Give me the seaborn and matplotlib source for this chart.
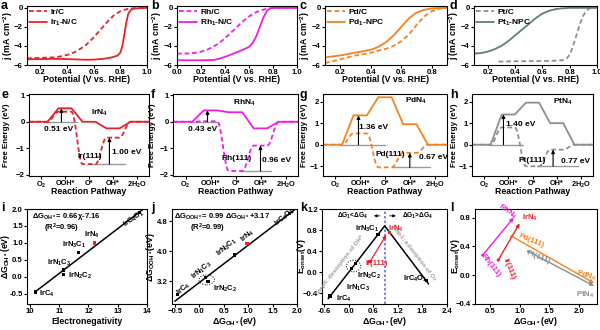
import numpy as np
import pandas as pd
import matplotlib
matplotlib.use("Agg")
import matplotlib.pyplot as plt
import seaborn as sns
from matplotlib.patches import Ellipse

# ---------------- data ----------------
# a  Ir
a_irc_x = [0.1, 0.2, 0.3, 0.35, 0.4, 0.45, 0.5, 0.55, 0.6, 0.65, 0.7, 0.75, 0.8, 0.85, 0.9, 0.95, 1.0]
a_irc_y = [-5.3, -5.25, -5.2, -5.1, -4.95, -4.7, -4.3, -3.8, -3.1, -2.3, -1.5, -0.8, -0.35, -0.12, -0.03, 0.0, 0.0]
a_irn_x = [0.1, 0.2, 0.3, 0.4, 0.5, 0.55, 0.6, 0.65, 0.7, 0.75, 0.78, 0.8, 0.815, 0.83, 0.845, 0.86, 0.88, 0.9, 0.95, 1.0]
a_irn_y = [-5.4, -5.38, -5.35, -5.38, -5.43, -5.45, -5.43, -5.38, -5.3, -5.15, -5.0, -4.7, -4.0, -2.8, -1.5, -0.6, -0.2, -0.08, -0.02, 0.0]
# b  Rh
b_rhc_x = [0.0, 0.05, 0.1, 0.15, 0.2, 0.25, 0.3, 0.35, 0.4, 0.45, 0.5, 0.55, 0.6, 0.65, 0.7, 0.75, 0.8, 0.9, 1.0]
b_rhc_y = [-4.8, -4.8, -4.78, -4.72, -4.6, -4.4, -4.1, -3.7, -3.2, -2.6, -2.0, -1.4, -0.9, -0.5, -0.25, -0.08, 0.0, 0.0, 0.0]
b_rhn_x = [0.0, 0.1, 0.2, 0.3, 0.35, 0.4, 0.45, 0.5, 0.55, 0.6, 0.63, 0.66, 0.69, 0.72, 0.75, 0.78, 0.8, 0.9, 1.0]
b_rhn_y = [-5.5, -5.5, -5.5, -5.48, -5.35, -5.15, -4.9, -4.65, -4.4, -4.1, -3.7, -3.0, -2.0, -1.0, -0.3, -0.03, 0.0, 0.0, 0.0]
# c  Pd
c_pdc_x = [0.1, 0.15, 0.2, 0.25, 0.3, 0.35, 0.4, 0.45, 0.5, 0.55, 0.6, 0.65, 0.7, 0.75, 0.8, 0.85, 0.9]
c_pdc_y = [-5.8, -5.6, -5.4, -5.2, -5.0, -4.85, -4.7, -4.5, -4.3, -4.0, -3.5, -2.8, -1.8, -0.9, -0.35, -0.1, 0.0]
c_pdn_x = [0.1, 0.15, 0.2, 0.25, 0.3, 0.35, 0.4, 0.45, 0.5, 0.55, 0.6, 0.65, 0.7, 0.75, 0.8, 0.85, 0.9]
c_pdn_y = [-5.2, -5.1, -5.0, -4.85, -4.7, -4.55, -4.4, -4.1, -3.6, -2.9, -2.0, -1.1, -0.5, -0.2, -0.05, -0.01, 0.0]
# d  Pt
d_ptc_x = [0.28, 0.4, 0.5, 0.6, 0.7, 0.75, 0.78, 0.8, 0.82, 0.84, 0.86, 0.88, 0.9, 0.92, 0.94, 0.96]
d_ptc_y = [-5.65, -5.6, -5.6, -5.58, -5.55, -5.5, -5.3, -4.9, -4.2, -3.3, -2.4, -1.5, -0.8, -0.35, -0.1, 0.0]
d_ptn_x = [0.1, 0.15, 0.2, 0.25, 0.3, 0.35, 0.4, 0.45, 0.5, 0.55, 0.6, 0.65, 0.7, 0.75, 0.8, 0.9, 1.0]
d_ptn_y = [-4.8, -4.75, -4.6, -4.35, -4.0, -3.5, -2.9, -2.3, -1.7, -1.1, -0.6, -0.3, -0.12, -0.04, 0.0, 0.0, 0.0]

# e-h free-energy levels
states = ["O$_2$", "OOH*", "O*", "OH*", "2H$_2$O"]
e_IrN4 = [0.0, 0.51, 0.0, -0.25, 0.0]
e_Ir111 = [0.0, 0.38, -1.60, -0.60, 0.0]
f_RhN4 = [0.0, 0.43, 0.36, -0.25, 0.0]
f_Rh111 = [0.0, 0.02, -1.86, -0.90, 0.0]
g_PdN4 = [0.0, 1.36, 2.20, 0.95, 0.0]
g_Pd111 = [0.0, 0.52, -1.05, -0.38, 0.0]
h_PtN4 = [0.0, 1.40, 1.95, 1.00, 0.0]
h_Pt111 = [0.0, 0.80, -1.00, -0.23, 0.0]

# i-k
sites = ["IrC$_4$", "IrN$_1$C$_3$", "IrN$_2$C$_2$", "IrN$_3$C$_1$", "IrN$_4$", "IrC$_4$O$_1$"]
i_chi = [10.2, 11.15, 11.15, 11.65, 12.2, 13.75]
i_goh = [-0.45, 0.2, 0.07, 0.72, 1.0, 1.9]
i_fit = (0.66, -7.16)
j_goh = [-0.45, 0.12, 0.18, 0.72, 0.98, 1.85]
j_gooh = [2.85, 3.3, 3.2, 3.9, 4.2, 5.0]
j_fit = (0.99, 3.17)
k_goh = [-0.45, 0.07, 0.17, 0.72, 1.0, 1.9]
k_eon = [-0.45, 0.07, 0.17, 0.72, 0.75, -0.15]
k_volcano_x = [-0.5, 0.88, 1.95]
k_volcano_y = [-0.5, 0.88, -0.22]
k_ir111 = (0.52, 0.2)
k_top = 0.88
# l
l_names = ["Rh", "Ir", "Pd", "Pt"]
l_start_x = [0.38, 0.64, 0.87, 1.15]
l_start_y = [0.28, 0.21, 0.54, 0.33]
l_end_x = [0.9, 1.0, 2.25, 2.25]
l_end_y = [0.8, 0.72, -0.11, -0.15]

C_IR = "#e8212b"
C_RH = "#f01ee0"
C_PD = "#f5821f"
C_PT = "#5f7e7c"
C_PTD = "#8a8f8f"

# ---------------- style ----------------
sns.set_theme(style="ticks")
plt.rcParams.update({
    "font.family": ["Liberation Sans", "DejaVu Sans"],
    "font.weight": "bold",
    "axes.labelweight": "bold",
    "font.size": 6,
    "axes.linewidth": 0.8,
    "xtick.major.width": 0.8, "ytick.major.width": 0.8,
    "xtick.major.size": 2.0, "ytick.major.size": 2.0,
    "xtick.labelsize": 5.6, "ytick.labelsize": 5.6,
    "axes.labelsize": 6.3,
    "mathtext.fontset": "custom",
    "mathtext.rm": "Liberation Sans:bold",
    "mathtext.bf": "Liberation Sans:bold",
    "mathtext.it": "Liberation Sans:bold",
    "mathtext.sf": "Liberation Sans:bold",
    "mathtext.default": "rm",
    "axes.edgecolor": "black", "xtick.color": "black", "ytick.color": "black",
    "text.color": "black", "axes.labelcolor": "black",
    "xtick.major.pad": 1.0, "ytick.major.pad": 1.0, "axes.labelpad": 0.5,
})

fig = plt.figure(figsize=(6, 3.3), dpi=100)


def add_ax(x0, x1, y0, y1):
    return fig.add_axes([x0 / 600, 1 - y1 / 330, (x1 - x0) / 600, (y1 - y0) / 330])


def place_labels(ax, ylab_px, xlab_py):
    inv = ax.transAxes.inverted()
    xa = inv.transform((ylab_px, 100))[0]
    ya = inv.transform((100, 330 - xlab_py))[1]
    ax.yaxis.set_label_coords(xa, 0.5)
    ax.xaxis.set_label_coords(0.5, ya)
    ax.yaxis.label.set_va("center")
    ax.xaxis.label.set_va("center")


DASH = (0, (2.6, 1.6))


def lsv(ax, dx, dy, sx, sy, cd, cs, ld, ls, xlim, xticks):
    sns.lineplot(x=dx, y=dy, ax=ax, color=cd, linestyle=DASH, lw=1.3, label=ld, estimator=None, sort=False)
    sns.lineplot(x=sx, y=sy, ax=ax, color=cs, lw=1.3, label=ls, estimator=None, sort=False)
    ax.set_xlim(*xlim)
    ax.set_ylim(-6, 0.2)
    ax.set_yticks([0, -2, -4, -6])
    ax.set_xticks(xticks)
    ax.set_xticklabels([f"{t:.1f}" for t in xticks])
    ax.set_xlabel("Potential (V vs. RHE)")
    ax.set_ylabel("j (mA cm$^{-2}$)")
    ax.legend(loc="upper left", frameon=False, fontsize=6, handlelength=2.2,
              borderaxespad=0.1, labelspacing=0.25, handletextpad=0.4, borderpad=0.1)


axa = add_ax(27, 147, 6, 65)
lsv(axa, a_irc_x, a_irc_y, a_irn_x, a_irn_y, C_IR, C_IR, "Ir/C", "Ir$_1$-N/C", (0.1, 1.0), [0.2, 0.4, 0.6, 0.8, 1.0])
place_labels(axa, 8, 80)
axb = add_ax(177, 297, 6, 65)
lsv(axb, b_rhc_x, b_rhc_y, b_rhn_x, b_rhn_y, C_RH, C_RH, "Rh/C", "Rh$_1$-N/C", (0.0, 1.0), [0.0, 0.2, 0.4, 0.6, 0.8, 1.0])
place_labels(axb, 157, 80)
axc = add_ax(325, 447, 6, 65)
lsv(axc, c_pdc_x, c_pdc_y, c_pdn_x, c_pdn_y, C_PD, C_PD, "Pd/C", "Pd$_1$-NPC", (0.1, 0.9), [0.2, 0.4, 0.6, 0.8])
place_labels(axc, 305, 80)
axd = add_ax(474, 597, 6, 65)
lsv(axd, d_ptc_x, d_ptc_y, d_ptn_x, d_ptn_y, C_PTD, C_PT, "Pt/C", "Pt$_1$-NPC", (0.1, 1.0), [0.2, 0.4, 0.6, 0.8, 1.0])
place_labels(axd, 454, 80)


# ---------------- free energy ----------------
def profile(levels, smooth, hw=0.27):
    xs, ys = [], []
    n = len(levels)
    for i, lv in enumerate(levels):
        left = -0.5 if i == 0 else i - hw
        right = n - 0.5 if i == n - 1 else i + hw
        if i > 0 and smooth:
            t = np.linspace(0, 1, 14)[1:-1]
            x0, x1 = xs[-1], left
            y0, y1 = ys[-1], lv
            xs += list(x0 + (x1 - x0) * t)
            ys += list(y0 + (y1 - y0) * (1 - np.cos(np.pi * t)) / 2)
        xs += [left, right]
        ys += [lv, lv]
    return xs, ys


def fe(ax, solid, dashed, cs, cd, ylim, yticks):
    dx, dy = profile(dashed, True)
    sx, sy = profile(solid, False)
    sns.lineplot(x=dx, y=dy, ax=ax, color=cd, linestyle=DASH, lw=1.3, estimator=None, sort=False)
    sns.lineplot(x=sx, y=sy, ax=ax, color=cs, lw=1.3, estimator=None, sort=False)
    ax.set_xlim(-0.5, 4.5)
    ax.set_ylim(*ylim)
    ax.set_yticks(yticks)
    ax.set_xticks(range(len(states)))
    ax.set_xticklabels(states, fontsize=5.3)
    ax.set_xlabel("Reaction Pathway")
    ax.set_ylabel("Free Energy (eV)", fontsize=5.8)


def step_arrow(ax, x, lo, hi, bx0, bx1, text, txy):
    ax.plot([bx0, bx1], [lo, lo], color="#9a9a9a", lw=1.0, zorder=1)
    ax.annotate("", xy=(x, hi), xytext=(x, lo),
                arrowprops=dict(arrowstyle="-|>", color="black", lw=0.8, mutation_scale=5, shrinkA=0, shrinkB=0))
    ax.text(txy[0], txy[1], text, ha="center", va="center", fontsize=6)


axe = add_ax(29, 149, 94, 176)
fe(axe, e_IrN4, e_Ir111, C_IR, C_IR, (-2.05, 1.05), [1, 0, -1, -2])
step_arrow(axe, 0.85, e_IrN4[0], e_IrN4[1], 0.1, 1.5, f"{e_IrN4[1]-e_IrN4[0]:.2f} eV", (0.75, -0.3))
step_arrow(axe, 2.85, e_Ir111[2], e_Ir111[3], 2.0, 3.5, f"{e_Ir111[3]-e_Ir111[2]:.2f} eV", (3.55, -1.15))
axe.text(2.45, 0.35, "IrN$_4$", fontsize=6, ha="center", va="center")
axe.text(2.05, -1.33, "Ir(111)", fontsize=6, ha="center", va="center")
place_labels(axe, 7, 192)

axf = add_ax(173, 298, 94, 176)
fe(axf, f_RhN4, f_Rh111, C_RH, C_RH, (-2.05, 1.05), [1, 0, -1, -2])
step_arrow(axf, 0.88, f_RhN4[0], f_RhN4[1], 0.2, 1.3, f"{f_RhN4[1]-f_RhN4[0]:.2f} eV", (0.7, -0.28))
step_arrow(axf, 3.0, f_Rh111[2], f_Rh111[3], 2.2, 3.4, f"{f_Rh111[3]-f_Rh111[2]:.2f} eV", (3.65, -1.45))
axf.text(2.35, 0.72, "RhN$_4$", fontsize=6, ha="center", va="center")
axf.text(2.05, -1.38, "Rh(111)", fontsize=6, ha="center", va="center")
place_labels(axf, 153, 192)

axg = add_ax(323, 447, 94, 176)
fe(axg, g_PdN4, g_Pd111, C_PD, C_PD, (-1.45, 2.35), [2, 1, 0, -1])
step_arrow(axg, 0.93, g_PdN4[0], g_PdN4[1], 0.2, 2.0, f"{g_PdN4[1]-g_PdN4[0]:.2f} eV", (1.55, 0.8))
step_arrow(axg, 3.0, g_Pd111[2], g_Pd111[3], 2.3, 3.8, f"{g_Pd111[3]-g_Pd111[2]:.2f} eV", (3.95, -0.6))
axg.text(3.25, 2.05, "PdN$_4$", fontsize=6, ha="center", va="center")
axg.text(2.2, -0.45, "Pd(111)", fontsize=6, ha="center", va="center")
place_labels(axg, 305, 192)

axh = add_ax(472, 593, 94, 176)
fe(axh, h_PtN4, h_Pt111, C_PTD, C_PTD, (-1.45, 2.35), [2, 1, 0, -1])
step_arrow(axh, 0.8, h_PtN4[0], h_PtN4[1], 0.2, 1.6, f"{h_PtN4[1]-h_PtN4[0]:.2f} eV", (1.5, 0.95))
step_arrow(axh, 2.85, h_Pt111[2], h_Pt111[3], 2.2, 3.9, f"{h_Pt111[3]-h_Pt111[2]:.2f} eV", (3.8, -0.78))
axh.text(3.25, 2.0, "PtN$_4$", fontsize=6, ha="center", va="center")
axh.text(2.0, -0.73, "Pt(111)", fontsize=6, ha="center", va="center")
place_labels(axh, 455, 192)


# ---------------- scatter panels ----------------
def pts(ax, xs, ys):
    colors = [C_IR if s == "IrN$_4$" else "black" for s in sites]
    df = pd.DataFrame({"x": xs, "y": ys, "site": sites})
    sns.scatterplot(data=df, x="x", y="y", hue="site", palette=dict(zip(sites, colors)),
                    marker="s", s=6, edgecolor="none", legend=False, ax=ax, zorder=4)


LS = 5.5
R3_TOP, R3_BOT, R3_XL = 209, 304, 322
# i
axi = add_ax(27, 147, R3_TOP, R3_BOT)
fx = np.array([10.2, 13.9])
sns.lineplot(x=fx, y=i_fit[0] * fx + i_fit[1], ax=axi, color="black", lw=1.1)
pts(axi, i_chi, i_goh)
axi.set_xlim(9.9, 14.0)
axi.set_ylim(-0.8, 2.0)
axi.set_xticks([10, 11, 12, 13, 14])
axi.set_yticks([-0.5, 0.0, 0.5, 1.0, 1.5, 2.0])
axi.set_yticklabels(["-0.5", "0.0", "0.5", "1.0", "1.5", "2.0"])
axi.set_xlabel("Electronegativity")
axi.set_ylabel("ΔG$_{OH*}$(eV)")
axi.text(0.04, 0.9, "ΔG$_{OH*}$= 0.66χ-7.16", transform=axi.transAxes, fontsize=LS)
axi.text(0.14, 0.77, "(R$^2$=0.96)", transform=axi.transAxes, fontsize=LS)
axi.text(10.32, -0.5, sites[0], fontsize=LS, va="center")
axi.text(10.6, 0.4, sites[1], fontsize=LS, va="center")
axi.text(11.3, 0.03, sites[2], fontsize=LS, va="center")
axi.text(11.5, 0.95, sites[3], fontsize=LS, va="center", ha="center")
axi.text(12.1, 1.25, sites[4], fontsize=LS, va="center", ha="center")
axi.text(13.55, 1.72, sites[5], fontsize=LS, va="center", ha="center", rotation=35)
place_labels(axi, 6, R3_XL)

# j
axj = add_ax(172, 297, R3_TOP, R3_BOT)
fx = np.array([-0.5, 1.95])
sns.lineplot(x=fx, y=j_fit[0] * fx + j_fit[1], ax=axj, color="black", lw=1.1)
pts(axj, j_goh, j_gooh)
axj.add_patch(Ellipse((0.15, 3.24), 0.32, 0.26, fill=False, ls=":", lw=0.7, ec="black"))
axj.set_xlim(-0.56, 2.0)
axj.set_ylim(2.6, 5.12)
axj.set_xticks([-0.5, 0.0, 0.5, 1.0, 1.5, 2.0])
axj.set_yticks([3.2, 4.0, 4.8])
axj.set_xlabel("ΔG$_{OH*}$(eV)")
axj.set_ylabel("ΔG$_{OOH*}$(eV)")
axj.text(0.02, 0.9, "ΔG$_{OOH*}$= 0.99 ΔG$_{OH*}$+3.17", transform=axj.transAxes, fontsize=LS)
axj.text(0.14, 0.77, "(R$^2$=0.99)", transform=axj.transAxes, fontsize=LS)
for lab, xy in zip([sites[0], sites[1], sites[3], sites[4], sites[5]],
                   [(-0.33, 3.0), (0.05, 3.5), (0.57, 4.1), (1.0, 4.4), (1.75, 4.9)]):
    axj.text(xy[0], xy[1], lab, fontsize=LS, ha="center", va="center", rotation=40)
axj.text(0.27, 3.0, sites[2], fontsize=LS, va="center")
place_labels(axj, 151, R3_XL)

# k
axk = add_ax(322, 447, R3_TOP, R3_BOT)
sns.lineplot(x=k_volcano_x, y=k_volcano_y, ax=axk, color="black", lw=1.1, estimator=None, sort=False)
axk.axvline(k_top, color="#6f6fe0", ls=(0, (1.5, 1.2)), lw=1.2, zorder=1)
pts(axk, k_goh, k_eon)
sns.scatterplot(x=[k_ir111[0]], y=[k_ir111[1]], ax=axk, color=C_IR, marker="s", s=6, edgecolor="none")
axk.annotate("", xy=(k_goh[4] - 0.08, k_eon[4] - 0.04), xytext=k_ir111,
             arrowprops=dict(arrowstyle="-|>", color=C_IR, lw=0.9, mutation_scale=5, shrinkA=0, shrinkB=0))
axk.add_patch(Ellipse((0.12, 0.12), 0.35, 0.22, fill=False, ls=":", lw=0.7, ec="black"))
axk.set_xlim(-0.65, 2.4)
axk.set_ylim(-0.6, 1.2)
axk.set_xticks([-0.6, 0.0, 0.6, 1.2, 1.8, 2.4])
axk.set_xticklabels(["-0.6", "0.0", "0.6", "1.2", "1.8", "2.4"])
axk.set_yticks([-0.4, 0.0, 0.4, 0.8, 1.2])
axk.set_xlabel("ΔG$_{OH*}$(eV)")
axk.set_ylabel("E$_{onset}$(V)")
axk.text(0.1, 1.07, "ΔG$_1$<ΔG$_4$", fontsize=4.8, ha="center", va="center")
axk.text(1.68, 1.07, "ΔG$_1$>ΔG$_4$", fontsize=4.8, ha="center", va="center")
axk.annotate("", xy=(0.55, 1.07), xytext=(0.83, 1.07),
             arrowprops=dict(arrowstyle="-|>", color="black", lw=0.6, mutation_scale=4))
axk.annotate("", xy=(1.22, 1.07), xytext=(0.93, 1.07),
             arrowprops=dict(arrowstyle="-|>", color="black", lw=0.6, mutation_scale=4))
axk.text(-0.22, 0.14, "Step4: desorption of OH*", fontsize=4.5, color="#9a9a9a", ha="center", va="center",
         rotation=45, transform_rotates_text=True, rotation_mode="anchor")
axk.text(1.58, 0.38, "Step1: adsorption of O$_2$", fontsize=4.5, color="#9a9a9a", ha="center", va="center",
         rotation=-45, transform_rotates_text=True, rotation_mode="anchor")
axk.text(-0.32, -0.5, sites[0], fontsize=LS, va="center")
axk.text(0.23, -0.3, sites[1], fontsize=LS, va="center", ha="center")
axk.text(0.5, -0.06, sites[2], fontsize=LS, va="center", ha="center")
axk.text(0.45, 0.83, sites[3], fontsize=LS, va="center", ha="center")
axk.text(1.15, 0.82, sites[4], fontsize=LS, va="center", ha="center", color=C_IR)
axk.text(0.68, 0.16, "Ir(111)", fontsize=LS, va="center", ha="center", color=C_IR)
axk.text(1.62, -0.13, sites[5], fontsize=LS, va="center", ha="center")
place_labels(axk, 301, R3_XL)

# l
axl = add_ax(475, 597, R3_TOP, R3_BOT)
l_colors = [C_RH, C_IR, C_PD, C_PTD]
sns.scatterplot(x=l_start_x, y=l_start_y, ax=axl, hue=l_names, palette=l_colors, s=5, legend=False, edgecolor="none")
for sx, sy, ex, ey, c in zip(l_start_x, l_start_y, l_end_x, l_end_y, l_colors):
    axl.annotate("", xy=(ex, ey), xytext=(sx, sy),
                 arrowprops=dict(arrowstyle="-|>", color=c, lw=1.0, mutation_scale=5, shrinkA=0, shrinkB=0))
axl.set_xlim(0.25, 2.3)
axl.set_ylim(-0.4, 0.92)
axl.set_xticks([0.5, 1.0, 1.5, 2.0])
axl.set_yticks([-0.4, 0.0, 0.4, 0.8])
axl.set_xlabel("ΔG$_{OH*}$(eV)")
axl.set_ylabel("E$_{onset}$(V)")
axl.text(0.52, 0.13, "Rh(111)", color=C_RH, fontsize=LS, ha="center", va="center", rotation=-52)
axl.text(0.82, 0.08, "Ir(111)", color=C_IR, fontsize=LS, ha="center", va="center", rotation=-68)
axl.text(1.2, 0.48, "Pd(111)", color=C_PD, fontsize=LS, ha="center", va="center", rotation=-22)
axl.text(1.32, 0.25, "Pt(111)", color=C_PTD, fontsize=LS, ha="center", va="center", rotation=-22)
axl.text(0.8, 0.88, "RhN$_4$", color=C_RH, fontsize=LS, ha="center", va="center", rotation=-35)
axl.text(1.17, 0.8, "IrN$_4$", color=C_IR, fontsize=LS, ha="center", va="center")
axl.text(2.12, 0.0, "PdN$_4$", color=C_PD, fontsize=LS, ha="center", va="center", rotation=-15)
axl.text(2.1, -0.28, "PtN$_4$", color=C_PTD, fontsize=LS, ha="center", va="center")
place_labels(axl, 455, R3_XL)

# panel letters
for lab, (px, py) in zip("abcdefghijkl",
                         [(1, 6), (151, 6), (300, 6), (450, 6),
                          (1, 95), (151, 95), (300, 95), (450, 95),
                          (1, 208), (151, 208), (300, 208), (450, 208)]):
    fig.text(px / 600, 1 - py / 330, lab, fontsize=9, fontweight="bold", va="center", ha="left")

fig.savefig("out.png", dpi=100)
